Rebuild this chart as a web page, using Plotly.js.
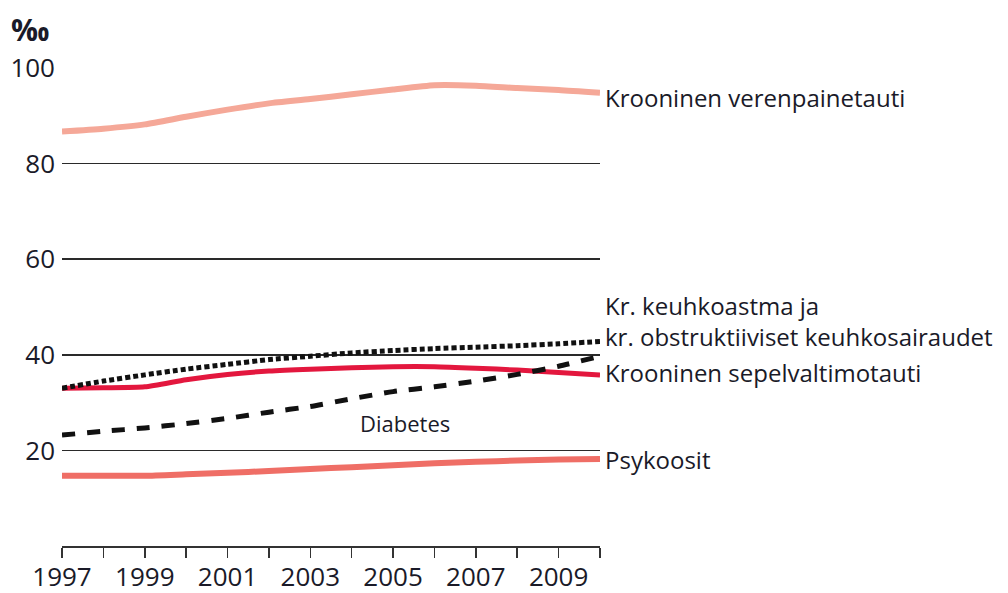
<!DOCTYPE html>
<html>
<head>
<meta charset="utf-8">
<script src="https://cdn.plot.ly/plotly-3.0.1.min.js"></script>
<style>html,body{margin:0;padding:0;background:#fff;}#chart{width:1008px;height:593px;}</style>
</head>
<body>
<div id="chart"></div>
<script>
var years = [1997,1998,1999,2000,2001,2002,2003,2004,2005,2006,2007,2008,2009,2010];
var verenpaine = [86.7,87.3,88.2,89.8,91.3,92.6,93.5,94.5,95.5,96.4,96.3,95.8,95.4,94.8];
var keuhko = [33.0,34.5,35.8,37.0,38.0,39.0,39.7,40.4,40.9,41.3,41.6,41.9,42.3,42.8];
var sepelvaltimo = [33.0,33.1,33.3,34.8,35.9,36.6,37.0,37.3,37.5,37.5,37.2,36.8,36.3,35.8];
var diabetes = [23.2,24.0,24.7,25.6,26.7,28.0,29.2,30.8,32.3,33.3,34.5,35.9,37.6,39.7];
var psykoosit = [14.7,14.7,14.7,15.0,15.3,15.7,16.1,16.5,16.9,17.3,17.6,17.9,18.1,18.2];
var yTicks = [20,40,60,80,100];
var xTickText = ['1997','','1999','','2001','','2003','','2005','','2007','','2009',''];

var FONT = 'Open Sans, Noto Sans, sans-serif';
var TXT = '#1a1a28';

var traces = [
  {x: years, y: verenpaine, mode: 'lines', line: {color: '#f5a898', width: 6, shape: 'spline', smoothing: 0.6}},
  {x: years, y: psykoosit, mode: 'lines', line: {color: '#ef6e66', width: 6, shape: 'spline', smoothing: 0.6}},
  {x: years, y: sepelvaltimo, mode: 'lines', line: {color: '#e3173e', width: 5, shape: 'spline', smoothing: 0.6}},
  {x: years, y: diabetes, mode: 'lines', line: {color: '#111111', width: 5, dash: '13px,12px', shape: 'spline', smoothing: 0.6}},
  {x: years, y: keuhko, mode: 'lines', line: {color: '#111111', width: 5, dash: '5px,3px', shape: 'spline', smoothing: 0.6}}
];

function lab(text, y, size) {
  return {x: 2010, y: y, xref: 'x', yref: 'y', text: text, showarrow: false, align: 'left',
    xanchor: 'left', yanchor: 'middle', xshift: 3, font: {family: FONT, size: size || 24, color: TXT}};
}

var layout = {
  width: 1008, height: 593,
  margin: {l: 62, r: 408, t: 68, b: 47},
  paper_bgcolor: '#fff', plot_bgcolor: '#fff',
  showlegend: false,
  xaxis: {
    range: [1997, 2010], tickvals: years, ticktext: xTickText,
    showgrid: false, zeroline: false, showline: true, linecolor: '#333', linewidth: 1.6,
    ticks: 'outside', ticklen: 10, tickwidth: 1.6, tickcolor: '#333',
    ticklabelstandoff: -3,
    tickfont: {family: FONT, size: 26, color: TXT}
  },
  yaxis: {
    range: [0, 100], tickvals: yTicks, ticktext: yTicks.map(String),
    showgrid: true, gridcolor: '#2a2a2a', gridwidth: 1.5, zeroline: false, showline: false,
    ticks: '', ticklabelstandoff: 6, tickfont: {family: FONT, size: 26, color: TXT}
  },
  annotations: [
    lab('Krooninen verenpainetauti', 93.9),
    lab('Kr. keuhkoastma ja<br>kr. obstruktiiviset keuhkosairaudet', 47.0),
    lab('Krooninen sepelvaltimotauti', 36.2),
    lab('Psykoosit', 18.0),
    {x: 2005.3, y: 25.7, xref: 'x', yref: 'y', text: 'Diabetes', showarrow: false,
     xanchor: 'center', yanchor: 'middle', font: {family: FONT, size: 22, color: TXT}},
    {x: 0, y: 1 + 38/478, xref: 'paper', yref: 'paper', text: '‰', showarrow: false,
     xanchor: 'left', yanchor: 'middle', xshift: -53, font: {family: FONT, size: 30, color: TXT, weight: 'bold'}}
  ]
};

Plotly.newPlot('chart', traces.map(function(t){t.cliponaxis=false; t.hoverinfo='skip'; return t;}), layout, {staticPlot: true});
</script>
</body>
</html>
